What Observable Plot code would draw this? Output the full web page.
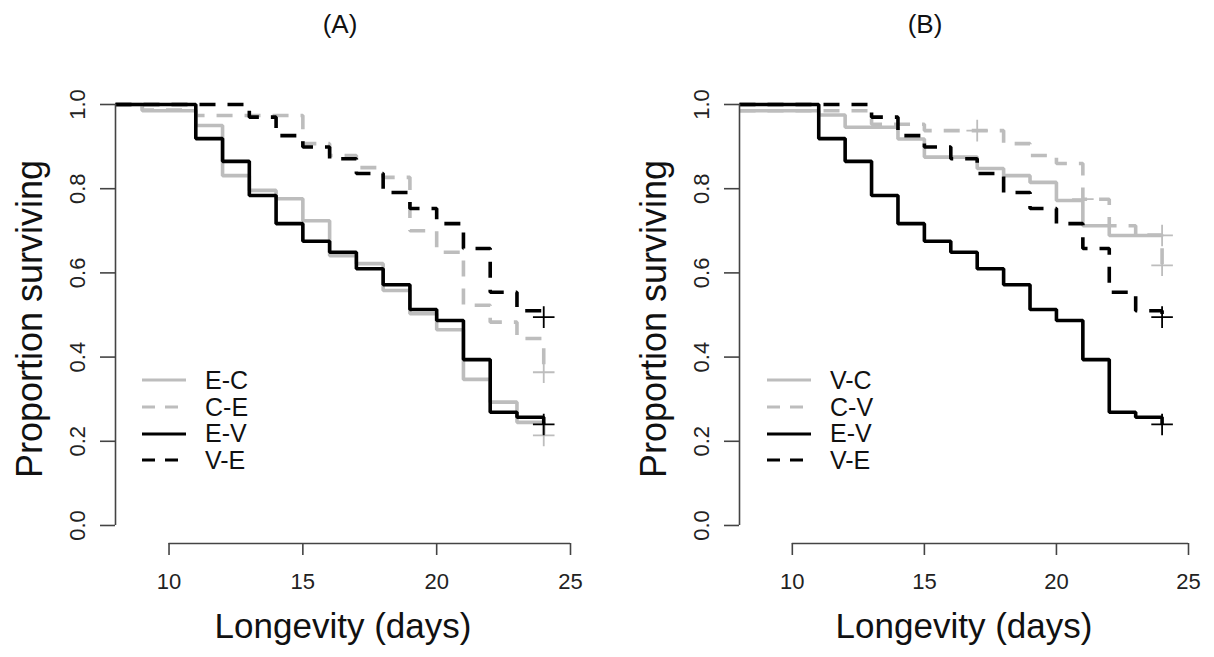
<!DOCTYPE html>
<html><head><meta charset="utf-8">
<script src="https://cdn.jsdelivr.net/npm/d3@7"></script>
<script src="https://cdn.jsdelivr.net/npm/@observablehq/plot@0.6"></script>
<style>
body{margin:0;background:#fff;}
#wrap{position:relative;width:1214px;height:657px;overflow:hidden;font-family:"Liberation Sans",Arial,sans-serif;color:#111;}
.title{position:absolute;top:9px;font-size:26px;transform:translateX(-50%);}
.panel{position:absolute;top:60px;}
.legend{position:absolute;font-size:25px;}
.legend .row{display:flex;align-items:center;height:26.7px;}
.legend svg{display:block;}
</style>
</head><body>
<div id="wrap"></div>
<script>
// ---- data ----
const xTicks = [10, 15, 20, 25];
const yTicks = [0, 0.2, 0.4, 0.6, 0.8, 1.0];
const xLabel = "Longevity (days)";
const yLabel = "Proportion surviving";
const titles = ["(A)", "(B)"];

// Panel A
const daysEC = [8, 9, 11, 12, 13, 14, 15, 16, 17, 18, 19, 20, 21, 22, 23, 24];
const survEC = [1.0, 0.985, 0.95, 0.831, 0.796, 0.776, 0.724, 0.641, 0.622, 0.558, 0.503, 0.465, 0.347, 0.293, 0.245, 0.214];
const daysCE = [8, 9, 11, 15, 16, 17, 18, 19, 20, 21, 22, 23, 24];
const survCE = [1.0, 0.987, 0.974, 0.907, 0.879, 0.85, 0.827, 0.70, 0.649, 0.523, 0.483, 0.444, 0.364];
// Shared by both panels
const daysEV = [8, 11, 12, 13, 14, 15, 16, 17, 18, 19, 20, 21, 22, 23, 24];
const survEV = [1.0, 0.919, 0.865, 0.784, 0.717, 0.675, 0.649, 0.61, 0.572, 0.513, 0.487, 0.394, 0.269, 0.257, 0.24];
const daysVE = [8, 13, 14, 15, 16, 17, 18, 19, 20, 21, 22, 23, 24];
const survVE = [1.0, 0.97, 0.926, 0.899, 0.871, 0.836, 0.791, 0.753, 0.717, 0.658, 0.554, 0.51, 0.495];
// Panel B
const daysVC = [8, 11, 12, 14, 15, 17, 18, 19, 20, 21, 22, 24];
const survVC = [0.985, 0.975, 0.946, 0.918, 0.875, 0.848, 0.831, 0.815, 0.772, 0.712, 0.689, 0.689];
const daysCV = [8, 13, 15, 18, 19, 20, 21, 22, 23, 24];
const survCV = [0.985, 0.953, 0.938, 0.907, 0.879, 0.86, 0.775, 0.712, 0.69, 0.618];

// censoring marks (+)
const censorEC = {days: [24], surv: [0.214]};
const censorCE = {days: [24], surv: [0.364]};
const censorEV = {days: [24], surv: [0.24]};
const censorVE = {days: [24], surv: [0.495]};
const censorVC = {days: [24], surv: [0.689]};
const censorCV = {days: [17, 21, 24], surv: [0.938, 0.775, 0.618]};

const legendA = ["E-C", "C-E", "E-V", "V-E"];
const legendB = ["V-C", "C-V", "E-V", "V-E"];

// ---- styles ----
const GRAY = "#bdbdbd", BLACK = "#000";
const DASH = "16,12";
const styleOf = [
  {stroke: GRAY, dash: null},
  {stroke: GRAY, dash: DASH},
  {stroke: BLACK, dash: null},
  {stroke: BLACK, dash: DASH}
];

const seriesA = [
  {name: legendA[0], days: daysEC, surv: survEC, censor: censorEC},
  {name: legendA[1], days: daysCE, surv: survCE, censor: censorCE},
  {name: legendA[2], days: daysEV, surv: survEV, censor: censorEV},
  {name: legendA[3], days: daysVE, surv: survVE, censor: censorVE}
];
const seriesB = [
  {name: legendB[0], days: daysVC, surv: survVC, censor: censorVC},
  {name: legendB[1], days: daysCV, surv: survCV, censor: censorCV},
  {name: legendB[2], days: daysEV, surv: survEV, censor: censorEV},
  {name: legendB[3], days: daysVE, surv: survVE, censor: censorVE}
];

const yBottom = -0.0428;
const FONT = '"Liberation Sans", Arial, sans-serif';

function panel(series, marginLeft, marginRight) {
  const marks = [];
  series.forEach((s, k) => {
    const st = styleOf[k];
    const pts = s.days.map((d, i) => ({day: d, surv: s.surv[i]}));
    marks.push(Plot.line(pts, {x: "day", y: "surv", curve: "step-after", stroke: st.stroke,
      strokeWidth: 3.6, strokeDasharray: st.dash, strokeLinecap: "butt", strokeLinejoin: "miter"}));
  });
  series.forEach((s, k) => {
    const st = styleOf[k];
    const pts = s.censor.days.map((d, i) => ({day: d, surv: s.censor.surv[i]}));
    marks.push(Plot.dot(pts, {x: "day", y: "surv", symbol: "plus", r: 7, stroke: st.stroke, strokeWidth: 1.8}));
  });
  marks.push(
    Plot.ruleX([8], {y1: 0, y2: 1, stroke: "#444", strokeWidth: 1.6}),
    Plot.ruleY([yBottom], {x1: xTicks[0], x2: xTicks[xTicks.length - 1], stroke: "#444", strokeWidth: 1.6}),
    Plot.axisY({ticks: yTicks, tickSize: 15, tickPadding: 16, tickRotate: -90, tickFormat: d3.format(".1f"),
      label: null, stroke: "#444", strokeWidth: 1.6}),
    Plot.axisX({ticks: xTicks, tickSize: 12, tickPadding: 18, label: null, stroke: "#444", strokeWidth: 1.6}),
    Plot.text([yLabel], {frameAnchor: "left", textAnchor: "middle", rotate: -90, dx: -85, dy: -5, fontSize: 36, fill: "#111"}),
    Plot.text([xLabel], {frameAnchor: "bottom", dy: 94, fontSize: 35, fill: "#111"})
  );
  return Plot.plot({
    width: 607, height: 597,
    marginLeft, marginRight, marginTop: 44, marginBottom: 114,
    x: {domain: [8, 25]},
    y: {domain: [yBottom, 1]},
    style: {fontFamily: FONT, fontSize: "22px", color: "#222", background: "transparent", overflow: "visible"},
    marks
  });
}

function legend(names, left, top) {
  const div = document.createElement("div");
  div.className = "legend";
  div.style.left = left + "px";
  div.style.top = top + "px";
  names.forEach((n, k) => {
    const st = styleOf[k];
    const row = document.createElement("div");
    row.className = "row";
    row.innerHTML = `<svg width="44" height="10"><line x1="0" x2="44" y1="5" y2="5" stroke="${st.stroke}" stroke-width="3.2" ${st.dash ? 'stroke-dasharray="13,10"' : ''}/></svg><span style="margin-left:19px">${n}</span>`;
    div.appendChild(row);
  });
  return div;
}

const wrap = document.getElementById("wrap");
const pA = panel(seriesA, 115, 37);
pA.classList.add("panel"); pA.style.left = "0px";
const pB = panel(seriesB, 132, 26);
pB.classList.add("panel"); pB.style.left = "607px";
wrap.appendChild(pA);
wrap.appendChild(pB);
[[titles[0], 340], [titles[1], 925]].forEach(([t, x]) => {
  const d = document.createElement("div");
  d.className = "title"; d.style.left = x + "px"; d.textContent = t;
  wrap.appendChild(d);
});
wrap.appendChild(legend(legendA, 142, 367));
wrap.appendChild(legend(legendB, 767, 367));
</script>
</body></html>
